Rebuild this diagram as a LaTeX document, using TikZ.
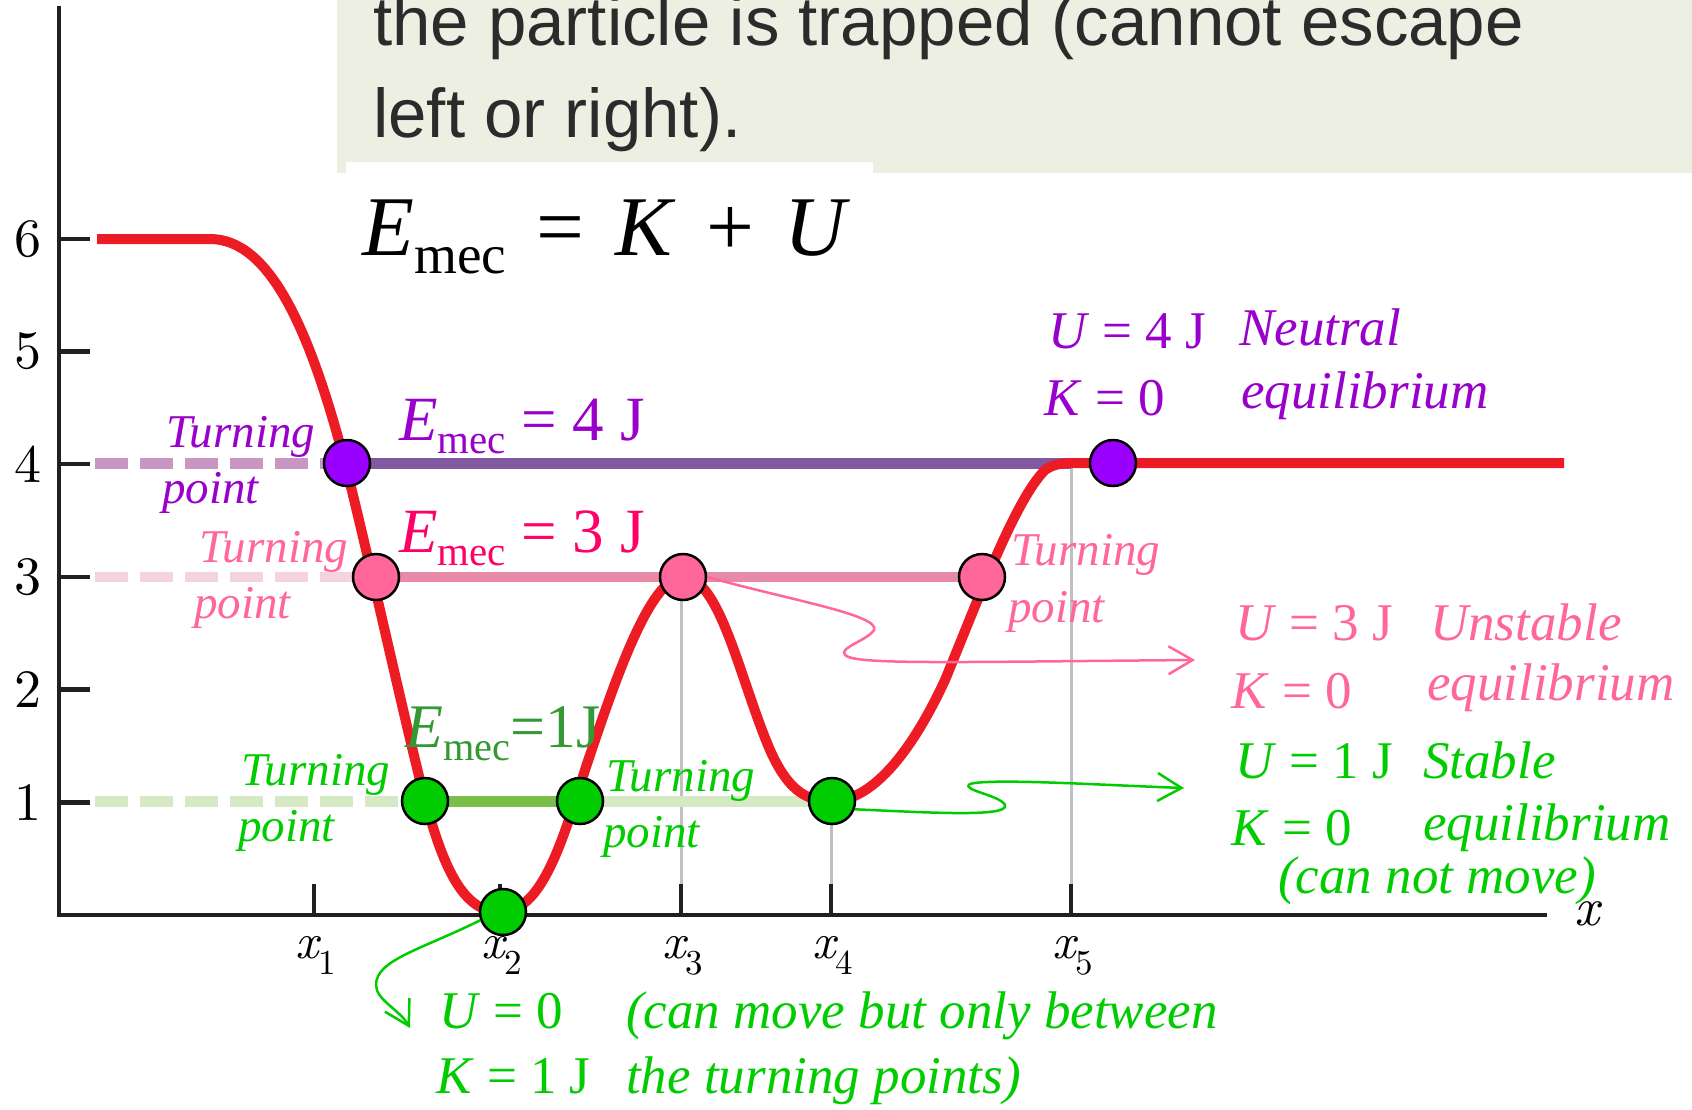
\documentclass[tikz,border=0pt]{standalone}
\usepackage{fontspec}
\setmainfont{Liberation Serif}
\newfontfamily\notefont{Liberation Sans}
\newfontfamily\lmrm{lmroman10}[Extension=.otf, UprightFont=*-regular, ItalicFont=*-italic]
\usetikzlibrary{arrows.meta}
\definecolor{curvered}{HTML}{ED1C24}
\definecolor{axisdark}{HTML}{231F20}
\definecolor{guidegray}{HTML}{C0C0C4}
\definecolor{notebg}{HTML}{EEEFE3}
\definecolor{notetext}{HTML}{2B2B2B}
\definecolor{purpletext}{HTML}{9900CC}
\definecolor{purpledot}{HTML}{9900FF}
\definecolor{purpleline}{HTML}{8059A1}
\definecolor{purpledash}{HTML}{C896C3}
\definecolor{pinktext}{HTML}{FF6699}
\definecolor{pinkdeep}{HTML}{FF0066}
\definecolor{pinkline}{HTML}{E88AA6}
\definecolor{pinkdash}{HTML}{F5D3DE}
\definecolor{greentext}{HTML}{00CC00}
\definecolor{greendeep}{HTML}{339933}
\definecolor{greenline}{HTML}{79BF4A}
\definecolor{greendash}{HTML}{D6E9C5}
\newcommand\fsz[1]{\fontsize{#1}{#1}\selectfont}
\newcommand\Emec{\textit{E}\raisebox{-0.22em}{\scalebox{0.65}{mec}}}
\newcommand\xsub[1]{{\itshape x}\raisebox{-0.32em}{\scalebox{0.7}{#1}}}
\tikzset{
  axis/.style={line width=4.5pt, axisdark},
  potential/.style={line width=10pt, curvered},
  level/.style={line width=11pt},
  dashlevel/.style={level, dash pattern=on 33pt off 12pt},
  guide/.style={line width=3pt, guidegray},
  ball/.style={circle, draw=black, line width=2.5pt, minimum size=46pt, inner sep=0pt},
  lbl/.style={anchor=base west, inner sep=0pt},
  turnlbl/.style={lbl, font=\fsz{47}\itshape},
  statelbl/.style={lbl, font=\fsz{53}},
  wiggle/.style={line width=2.5pt, ->},
}
\begin{document}
\begin{tikzpicture}[x=1pt, y=-1pt, >={Straight Barb[length=24pt,width=28pt]}]
  \useasboundingbox (0,0) rectangle (1692,1109);
  \clip (0,0) rectangle (1692,1109);
  \fill[white] (0,0) rectangle (1692,1109);
  \fill[notebg] (337,0) rectangle (1692,173);
  \fill[white] (346,162) rectangle (873,173);
  \node[lbl, font=\notefont\fsz{69}, text=notetext] (note1) at (373,45) {the particle is trapped (cannot escape};
  \node[lbl, font=\notefont\fsz{69}, text=notetext] (note2) at (373,137) {left or right).};
  \node[lbl, font=\fsz{85}] (emec) at (362,255)
    {\Emec\hspace{.36em}=\hspace{.36em}\textit{K}\hspace{.36em}+\hspace{.36em}\textit{U}};

  \coordinate (c4l) at (347,463);
  \coordinate (c4r) at (1113,463);
  \coordinate (c3l) at (376,577);
  \coordinate (c3m) at (683,577);
  \coordinate (c3r) at (982,577);
  \coordinate (c1l) at (425,801);
  \coordinate (c1m) at (580,801);
  \coordinate (c1r) at (832,801);
  \coordinate (c0) at (503,912);
  \coordinate (x5top) at (1071,463);

  \draw[guide] (681,577) -- (681,913);
  \draw[guide] (831,801) -- (831,913);
  \draw[guide] (x5top) -- (1071,913);

  \draw[dashlevel, purpledash] (95,463) -- (c4l);
  \draw[level, purpleline] (c4l) -- (x5top);
  \draw[dashlevel, pinkdash, line width=10pt] (95,577) -- (c3l);
  \draw[level, pinkline, line width=10pt] (c3l) -- (c3r);
  \draw[dashlevel, greendash] (95,801) -- (c1l);
  \draw[level, greenline] (c1l) -- (c1m);
  \draw[level, greendash] (c1m) -- (c1r);

  \draw[axis] (59,6) -- (59,915) -- (1547,915);
  \foreach \u in {1,...,6}{
    \draw[axis] (59,{915-112.7*\u}) -- (90,{915-112.7*\u});
    \node[font=\lmrm\fsz{54}, inner sep=0pt] (ylab\u) at (28,{915-112.7*\u}) {\u};
  }
  \foreach \xv/\k in {314/1,500/2,681/3,831/4,1071/5}{
    \draw[axis] (\xv,915) -- (\xv,884);
    \node[font=\lmrm\fsz{50}, anchor=base, inner sep=0pt] (xt\k) at (\xv+2,958) {\xsub{\k}};
  }
  \node[font=\lmrm\fsz{54}\itshape, anchor=base, inner sep=0pt] (xlab) at (1587,925) {x};

  \draw[potential] (97,239) -- (210,239) .. controls (270,239) and (310,330) .. (345,463)
    .. controls (365,541) and (400,700) .. (420,780)
    .. controls (440,860) and (460,912) .. (500,912)
    .. controls (540,912) and (560,850) .. (585,770)
    .. controls (615,680) and (650,577) .. (683,577)
    .. controls (720,577) and (740,680) .. (770,750)
    .. controls (790,795) and (810,801) .. (832,801)
    .. controls (875,801) and (915,745) .. (945,680)
    .. controls (978,600) and (1015,500) .. (1045,470)
    .. controls (1055,463) and (1065,463) .. (1080,463) -- (1564,463);

  \node[ball, fill=purpledot] (tp4) at (c4l) {};
  \node[ball, fill=purpledot] (neu4) at (c4r) {};
  \node[ball, fill=pinktext] (tp3l) at (c3l) {};
  \node[ball, fill=pinktext] (un3) at (c3m) {};
  \node[ball, fill=pinktext] (tp3r) at (c3r) {};
  \node[ball, fill=greentext] (tp1l) at (c1l) {};
  \node[ball, fill=greentext] (tp1r) at (c1m) {};
  \node[ball, fill=greentext] (st1) at (c1r) {};
  \node[ball, fill=greentext] (mov0) at (c0) {};

  \coordinate (un3tip) at (1195,660);
  \coordinate (st1tip) at (1184,788);
  \coordinate (mov0tip) at (410,1028);
  \draw[wiggle, pinktext] (un3.east) .. controls (790,600) and (880,615) .. (874,630)
    .. controls (868,640) and (838,648) .. (845,655)
    .. controls (855,665) and (950,662) .. (un3tip);
  \draw[wiggle, greentext] (st1.-20) .. controls (920,812) and (1010,818) .. (1005,805)
    .. controls (1000,795) and (960,790) .. (970,784)
    .. controls (990,778) and (1100,785) .. (st1tip);
  \draw[wiggle, greentext] (mov0.200) .. controls (420,950) and (376,960) .. (376,985)
    .. controls (376,1000) and (400,1010) .. (mov0tip);

  \node[turnlbl, text=purpletext] (tp4a) at (166,447) {Turning};
  \node[turnlbl, text=purpletext] (tp4b) at (162,503) {point};
  \node[turnlbl, text=pinktext] (tp3la) at (199,562) {Turning};
  \node[turnlbl, text=pinktext] (tp3lb) at (194,618) {point};
  \node[turnlbl, text=pinktext] (tp3ra) at (1011,565) {Turning};
  \node[turnlbl, text=pinktext] (tp3rb) at (1008,622) {point};
  \node[turnlbl, text=greentext] (tp1la) at (241,785) {Turning};
  \node[turnlbl, text=greentext] (tp1lb) at (238,841) {point};
  \node[turnlbl, text=greentext] (tp1ra) at (606,791) {Turning};
  \node[turnlbl, text=greentext] (tp1rb) at (603,847) {point};

  \node[lbl, font=\fsz{63}, text=purpletext] (e4) at (399,440) {\Emec{} = 4 J};
  \node[lbl, font=\fsz{63}, text=pinkdeep] (e3) at (399,552) {\Emec{} = 3 J};
  \node[lbl, font=\fsz{62}, text=greendeep] (e1) at (405,747) {\Emec{}=1J};

  \node[statelbl, text=purpletext] (u4) at (1048,348) {\textit{U} = 4 J};
  \node[statelbl, text=purpletext] (k4) at (1044,415) {\textit{K} = 0};
  \node[statelbl, text=purpletext, font=\fsz{53}\itshape] (neutral) at (1239,345) {Neutral};
  \node[statelbl, text=purpletext, font=\fsz{53}\itshape] (eqm4) at (1241,408) {equilibrium};

  \node[statelbl, text=pinktext] (u3) at (1235,640) {\textit{U} = 3 J};
  \node[statelbl, text=pinktext] (k3) at (1231,708) {\textit{K} = 0};
  \node[statelbl, text=pinktext, font=\fsz{53}\itshape] (unstable) at (1430,640) {Unstable};
  \node[statelbl, text=pinktext, font=\fsz{53}\itshape] (eqm3) at (1427,700) {equilibrium};

  \node[statelbl, text=greentext] (u1) at (1235,778) {\textit{U} = 1 J};
  \node[statelbl, text=greentext] (k1) at (1231,845) {\textit{K} = 0};
  \node[statelbl, text=greentext, font=\fsz{53}\itshape] (stable) at (1423,778) {Stable};
  \node[statelbl, text=greentext, font=\fsz{53}\itshape] (eqm1) at (1423,840) {equilibrium};
  \node[statelbl, text=greentext, font=\fsz{53}\itshape] (nomove) at (1278,893) {(can not move)};

  \node[statelbl, text=greentext] (u0) at (439,1028) {\textit{U} = 0};
  \node[statelbl, text=greentext] (k0) at (436,1093) {\textit{K} = 1 J};
  \node[statelbl, text=greentext, font=\fsz{53}\itshape] (move1) at (626,1028) {(can move but only between};
  \node[statelbl, text=greentext, font=\fsz{53}\itshape] (move2) at (626,1093) {the turning points)};
\end{tikzpicture}
\end{document}
